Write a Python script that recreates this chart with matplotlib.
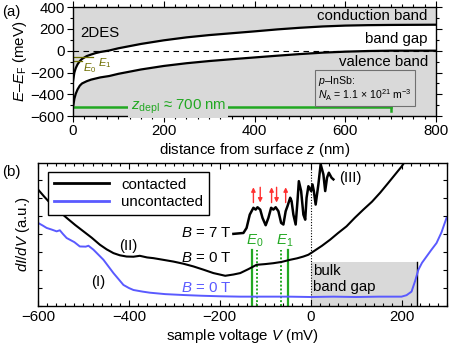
import matplotlib
matplotlib.use("Agg")
import matplotlib.pyplot as plt
from matplotlib.ticker import MultipleLocator

plt.rcParams['font.family'] = ['Liberation Sans', 'DejaVu Sans']
plt.rcParams['mathtext.fontset'] = 'custom'
plt.rcParams['mathtext.rm'] = 'Liberation Sans'
plt.rcParams['mathtext.it'] = 'Liberation Sans:italic'
plt.rcParams['font.size'] = 10.8

# ---- panel (a): band bending ----
z_band = [0, 3, 6, 10, 15, 20, 30, 40, 50, 60, 80, 100, 150, 200, 250, 300,
          350, 400, 450, 500, 550, 600, 650, 700, 750, 800]
E_conduction = [-280, -200, -160, -125, -95, -75, -50, -35, -22, -12, 2, 22, 62, 95,
                122, 143, 160, 177, 195, 210, 222, 230, 234, 236, 237, 238]
E_valence = [-520, -440, -395, -355, -320, -300, -280, -265, -255, -245, -232, -212,
             -172, -140, -115, -95, -78, -62, -46, -31, -18, -9, -3, 0, 0, 0]
E_levels = [-93, -56]
z_levels_end = [20, 45]
z_depl = 700
E_depl_line = -520

# ---- panel (b): spectra ----
V_unc = [-600, -590, -581, -570, -559, -552, -545, -537, -520, -508, -495, -489, -478,
         -467, -456, -445, -434, -423, -412, -400, -390, -370, -354, -320, -280, -240,
         -200, -155, -100, -50, 0, 50, 100, 150, 200, 211, 222, 230, 237, 245, 255,
         265, 277, 288, 299]
dIdV_unc = [4.62, 4.48, 4.34, 4.25, 4.15, 4.21, 4.0, 3.78, 3.55, 3.31, 3.30, 3.35, 3.13,
            2.85, 2.57, 2.2, 1.83, 1.5, 1.17, 1.0, 0.89, 0.8, 0.74, 0.66, 0.61, 0.57,
            0.54, 0.52, 0.52, 0.52, 0.50, 0.52, 0.50, 0.52, 0.52, 0.6, 0.8, 1.4, 2.01,
            2.4, 2.75, 3.1, 3.5, 4.1, 4.9]
V_c0 = [-600, -587, -574, -555, -537, -518, -500, -482, -464, -449, -434, -420, -405,
        -390, -376, -360, -346, -325, -302, -280, -258, -236, -214, -200, -188, -170,
        -155, -137, -119, -100, -82, -64, -45, -30, -16, -5, 6, 25, 43, 60, 79, 97,
        116, 135, 153, 171, 189, 200, 208]
dIdV_c0 = [6.48, 6.1, 5.74, 5.3, 4.90, 4.5, 4.15, 3.8, 3.41, 3.15, 2.94, 2.82, 2.75,
           2.74, 2.79, 2.70, 2.66, 2.57, 2.47, 2.35, 2.20, 2.02, 1.83, 1.75, 1.68, 1.75,
           1.83, 2.05, 2.29, 2.33, 2.38, 2.45, 2.57, 2.65, 2.75, 2.85, 3.03, 3.35, 3.69,
           4.05, 4.43, 4.9, 5.36, 5.8, 6.30, 6.85, 7.41, 7.75, 8.05]
V_c7 = [-170, -148, -141, -134, -126, -121, -117, -111, -106, -99, -93, -87, -82, -77,
        -71, -65, -60, -55, -51, -45, -42, -38, -33, -29, -26, -21, -16, -12, -9, -5,
        1, 4, 7, 11, 17, 22, 28, 32, 36, 40, 46, 50]
dIdV_c7 = [4.01, 4.06, 4.34, 5.08, 5.46, 5.36, 5.49, 5.36, 4.90, 4.49, 4.90, 5.46, 5.36,
           5.49, 5.27, 4.62, 4.53, 5.27, 5.55, 6.02, 5.83, 5.08, 4.53, 5.83, 6.94, 6.39,
           5.08, 4.80, 6.02, 6.66, 6.39, 6.76, 6.39, 5.64, 6.76, 7.88, 7.32, 6.39, 7.13,
           7.41, 7.13, 7.04]
V_E0 = [-130, -117]
V_E1 = [-65, -49]
V_spin_up = [-126, -86, -55]
V_spin_down = [-111, -75]
V_gap = [0, 235]

gray = '#d9d9d9'
green = '#22a822'
olive = '#6e6e00'
blue = '#5a5aff'

fig = plt.figure(figsize=(4.63, 3.52), dpi=100)

# ---------------- (a) ----------------
ax1 = fig.add_axes([0.1577, 0.670, 0.7840, 0.310])
ax1.set_facecolor(gray)
ax1.fill_between(z_band, E_valence, E_conduction, color='white', lw=0)
ax1.plot(z_band, E_conduction, color='black', lw=1.6)
ax1.plot(z_band, E_valence, color='black', lw=1.6)
ax1.axhline(0, color='black', lw=0.8, ls=(0, (5, 4)))
for E, zend in zip(E_levels, z_levels_end):
    ax1.plot([0, zend], [E, E], color=olive, lw=0.9)
ax1.text(21, -100, '$E_0$', color=olive, fontsize=8, va='top', ha='left')
ax1.text(55, -50, '$E_1$', color=olive, fontsize=8, va='top', ha='left')

ax1.plot([0, z_depl], [E_depl_line, E_depl_line], color=green, lw=1.8)
ax1.plot([z_depl, z_depl], [E_depl_line - 30, E_depl_line + 30], color=green, lw=1.8)
ax1.text(232, E_depl_line + 5, r'$z_{\rm depl}$ ≈ 700 nm', color=green, ha='center',
         va='center', bbox=dict(facecolor=gray, edgecolor='none', pad=1.5))

ax1.text(15, 165, '2DES', ha='left', va='center')
ax1.text(782, 318, 'conduction band', ha='right', va='center')
ax1.text(782, 108, 'band gap', ha='right', va='center')
ax1.text(782, -103, 'valence band', ha='right', va='center')
ax1.text(540, -342, '$p$–InSb:\n$N_{\\rm A}$ = 1.1 × 10$^{21}$ m$^{-3}$', fontsize=7.6,
         ha='left', va='center', linespacing=0.95,
         bbox=dict(facecolor=gray, edgecolor='#707070', lw=0.8, pad=2.5))

ax1.set_xlim(0, 800)
ax1.set_ylim(-600, 400)
ax1.set_xticks([0, 200, 400, 600, 800])
ax1.set_yticks([-600, -400, -200, 0, 200, 400])
ax1.xaxis.set_minor_locator(MultipleLocator(25))
ax1.yaxis.set_minor_locator(MultipleLocator(100))
ax1.tick_params(which='both', direction='out', top=True, right=True, width=0.8)
ax1.tick_params(which='major', length=4, pad=2)
ax1.tick_params(which='minor', length=2)
ax1.set_xlabel('distance from surface $z$ (nm)', labelpad=2)
ax1.set_ylabel('$E$–$E_{\\rm F}$ (meV)', labelpad=1)
for s in ax1.spines.values():
    s.set_linewidth(1.0)

# ---------------- (b) ----------------
ax2 = fig.add_axes([0.0821, 0.1307, 0.8833, 0.4062])
ax2.fill_between(V_gap, [0, 0], [2.47, 2.47], color=gray, lw=0, zorder=0)
ax2.plot([V_gap[1], V_gap[1]], [0, 2.47], color='black', lw=1.0)
ax2.axvline(0, color='black', lw=0.8, ls=(0, (1, 1.5)))
ax2.text(5, 1.5, 'bulk\nband gap', ha='left', va='center', linespacing=1.25)

ax2.plot([V_E0[0]] * 2, [0, 3.13], color=green, lw=1.6)
ax2.plot([V_E0[1]] * 2, [0, 3.13], color=green, lw=1.4, ls=(0, (1, 1)))
ax2.plot([V_E1[0]] * 2, [0, 3.13], color=green, lw=1.4, ls=(0, (1, 1)))
ax2.plot([V_E1[1]] * 2, [0, 3.13], color=green, lw=1.6)
ax2.text(-123, 3.15, '$E_0$', color=green, ha='center', va='bottom')
ax2.text(-57, 3.15, '$E_1$', color=green, ha='center', va='bottom')

l_unc, = ax2.plot(V_unc, dIdV_unc, color=blue, lw=1.4)
l_c0, = ax2.plot(V_c0, dIdV_c0, color='black', lw=1.5)
ax2.plot(V_c7, dIdV_c7, color='black', lw=1.8)

for V in V_spin_up:
    ax2.annotate('', xy=(V, 6.6), xytext=(V, 5.75),
                 arrowprops=dict(arrowstyle='-|>', color='#ff3030', lw=1.0,
                                 mutation_scale=6, shrinkA=0, shrinkB=0))
for V in V_spin_down:
    ax2.annotate('', xy=(V, 5.75), xytext=(V, 6.6),
                 arrowprops=dict(arrowstyle='-|>', color='#ff3030', lw=1.0,
                                 mutation_scale=6, shrinkA=0, shrinkB=0))

ax2.text(-174, 4.06, '$B$ = 7 T', ha='right', va='center')
ax2.text(-174, 2.66, '$B$ = 0 T', ha='right', va='center')
ax2.text(-174, 1.02, '$B$ = 0 T', ha='right', va='center', color=blue)
ax2.text(-467, 1.32, '(I)', ha='center', va='center')
ax2.text(-401, 3.35, '(II)', ha='center', va='center')
ax2.text(87, 7.1, '(III)', ha='center', va='center')

leg = ax2.legend([l_c0, l_unc], ['contacted', 'uncontacted'], loc='upper left',
                 bbox_to_anchor=(0.024, 0.939), borderaxespad=0, fancybox=False,
                 framealpha=1, edgecolor='black', handlelength=3.7, handletextpad=0.8,
                 labelspacing=0.25, borderpad=0.4)
leg.get_frame().set_linewidth(1.0)
for ln in leg.get_lines():
    ln.set_linewidth(2.0)

ax2.set_xlim(-600, 300)
ax2.set_ylim(0, 7.95)
ax2.set_xticks([-600, -400, -200, 0, 200])
ax2.xaxis.set_minor_locator(MultipleLocator(20))
ax2.yaxis.set_major_locator(MultipleLocator(1))
ax2.tick_params(axis='y', labelleft=False)
ax2.tick_params(which='both', direction='in', top=True, right=True, width=0.8)
ax2.tick_params(which='major', length=4, pad=3)
ax2.tick_params(which='minor', length=2)
ax2.tick_params(axis='y', length=3)
ax2.set_xlabel('sample voltage $V$ (mV)', labelpad=2)
ax2.set_ylabel('$dI/dV$ (a.u.)', labelpad=4)
for s in ax2.spines.values():
    s.set_linewidth(1.0)

fig.text(0.004, 0.965, '(a)', ha='left', va='center')
fig.text(0.004, 0.51, '(b)', ha='left', va='center')

fig.savefig('out.png', dpi=100)
